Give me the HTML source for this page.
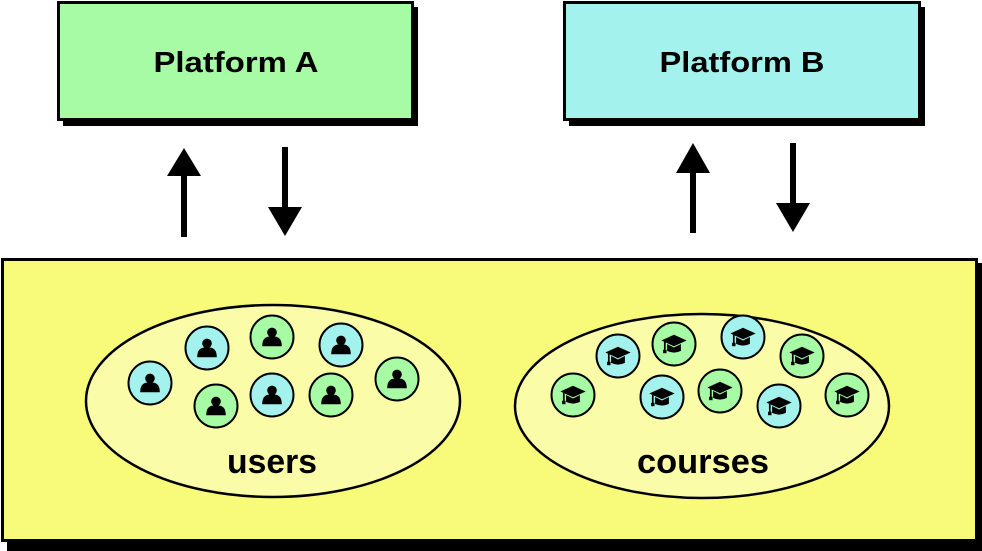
<!DOCTYPE html>
<html><head><meta charset="utf-8"><style>html,body{margin:0;padding:0;background:#fff}svg{display:block}</style></head>
<body>
<svg width="982" height="551" viewBox="0 0 982 551" xmlns="http://www.w3.org/2000/svg" font-family="Liberation Sans, sans-serif" font-weight="bold">
<defs>
<g id="user0"><circle cx="0" cy="-4" r="4.2" fill="#000"/><path d="M-8.5,8 C-8.5,0 -4,-0.5 0,-0.5 C4,-0.5 8.5,0 8.5,8 Z" fill="#000"/></g>
<g id="user"><use href="#user0" transform="scale(1.15)"/></g>
<g id="cap0"><path d="M-11,-3 L0,-8 L11,-3 L0,2 Z" fill="#000"/><path d="M-6,0 L-6,6 Q0,9 6,6 L6,0 L0,3 Z" fill="#000"/><path d="M-8,-2 L-8,6" stroke="#000" stroke-width="1.5"/><rect x="-9.5" y="5" width="3" height="3" fill="#000"/></g>
<g id="cap"><use href="#cap0" transform="scale(1.15)"/></g>
</defs>
<!-- Platform A -->
<rect x="63" y="7" width="355" height="119" fill="#000"/>
<rect x="58.5" y="2.5" width="354" height="117" fill="#a6fba4" stroke="#000" stroke-width="3"/>
<text x="236" y="72" font-size="29" text-anchor="middle" textLength="165" lengthAdjust="spacingAndGlyphs">Platform A</text>
<!-- Platform B -->
<rect x="569" y="7" width="356" height="119" fill="#000"/>
<rect x="564.5" y="2.5" width="355" height="117" fill="#a3f2ee" stroke="#000" stroke-width="3"/>
<text x="742" y="72" font-size="29" text-anchor="middle" textLength="165" lengthAdjust="spacingAndGlyphs">Platform B</text>
<!-- arrows -->
<g fill="#000" stroke="#000">
<line x1="184" y1="237" x2="184" y2="170" stroke-width="6"/><polygon points="184,148 167,176 201,176" stroke="none"/>
<line x1="285" y1="147" x2="285" y2="212" stroke-width="6"/><polygon points="285,236 268,207 302,207" stroke="none"/>
<line x1="693" y1="233" x2="693" y2="168" stroke-width="6"/><polygon points="693,143 676,173 710,173" stroke="none"/>
<line x1="793" y1="143" x2="793" y2="208" stroke-width="6"/><polygon points="793,232 776,203 810,203" stroke="none"/>
</g>
<!-- container -->
<rect x="7" y="263" width="975" height="288" fill="#000"/>
<rect x="2.5" y="259.5" width="974" height="281" fill="#f8fb7a" stroke="#000" stroke-width="3"/>
<!-- users ellipse -->
<ellipse cx="273" cy="401" rx="187" ry="96" fill="#fbfca8" stroke="#000" stroke-width="2.5"/>
<g stroke="#000" stroke-width="2">
<circle cx="150" cy="383" r="21.5" fill="#a3f2ee"/>
<circle cx="207" cy="348" r="21.5" fill="#a3f2ee"/>
<circle cx="272" cy="337" r="21.5" fill="#a6fba4"/>
<circle cx="341" cy="345" r="21.5" fill="#a3f2ee"/>
<circle cx="397" cy="379" r="21.5" fill="#a6fba4"/>
<circle cx="216" cy="406" r="21.5" fill="#a6fba4"/>
<circle cx="272" cy="395" r="21.5" fill="#a3f2ee"/>
<circle cx="331" cy="395" r="21.5" fill="#a6fba4"/>
</g>
<use href="#user" x="150" y="383"/><use href="#user" x="207" y="348"/><use href="#user" x="272" y="337"/><use href="#user" x="341" y="345"/>
<use href="#user" x="397" y="379"/><use href="#user" x="216" y="406"/><use href="#user" x="272" y="395"/><use href="#user" x="331" y="395"/>
<text x="272" y="473" font-size="34" text-anchor="middle" textLength="90" lengthAdjust="spacingAndGlyphs">users</text>
<!-- courses ellipse -->
<ellipse cx="702" cy="406" rx="187" ry="92" fill="#fbfca8" stroke="#000" stroke-width="2.5"/>
<g stroke="#000" stroke-width="2">
<circle cx="573" cy="395" r="21.5" fill="#a6fba4"/>
<circle cx="618" cy="356" r="21.5" fill="#a3f2ee"/>
<circle cx="674" cy="344" r="21.5" fill="#a6fba4"/>
<circle cx="743" cy="337" r="21.5" fill="#a3f2ee"/>
<circle cx="802" cy="356" r="21.5" fill="#a6fba4"/>
<circle cx="662" cy="397" r="21.5" fill="#a3f2ee"/>
<circle cx="720" cy="391" r="21.5" fill="#a6fba4"/>
<circle cx="779" cy="406" r="21.5" fill="#a3f2ee"/>
<circle cx="847" cy="395" r="21.5" fill="#a6fba4"/>
</g>
<use href="#cap" x="573" y="395"/><use href="#cap" x="618" y="356"/><use href="#cap" x="674" y="344"/><use href="#cap" x="743" y="337"/><use href="#cap" x="802" y="356"/>
<use href="#cap" x="662" y="397"/><use href="#cap" x="720" y="391"/><use href="#cap" x="779" y="406"/><use href="#cap" x="847" y="395"/>
<text x="703" y="473" font-size="34" text-anchor="middle" textLength="132" lengthAdjust="spacingAndGlyphs">courses</text>
</svg>
</body></html>
